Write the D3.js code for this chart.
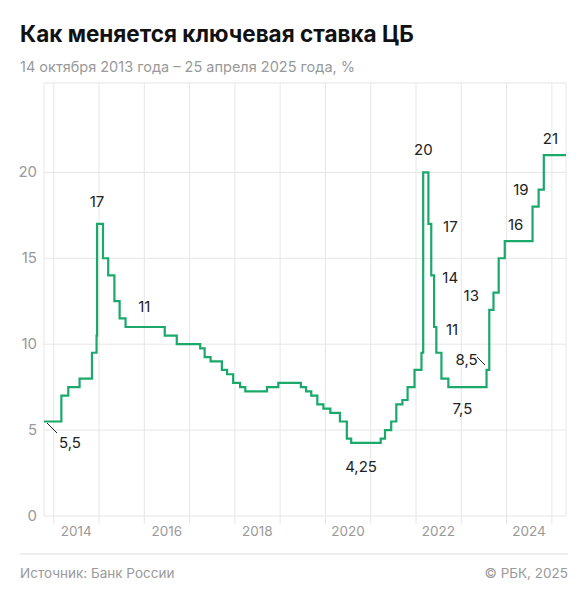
<!DOCTYPE html>
<html><head><meta charset="utf-8">
<script src="https://cdn.jsdelivr.net/npm/d3@7"></script>
<style>body{margin:0;background:#fff;font-family:Inter,Roboto,sans-serif}</style>
</head><body><svg id="c" width="588" height="600"></svg>
<script>
const dates=["2013-10-14","2014-03-03","2014-04-28","2014-07-28","2014-11-05","2014-12-12","2014-12-16","2015-02-02","2015-03-16","2015-05-05","2015-06-16","2015-08-03","2016-06-14","2016-09-19","2017-03-27","2017-05-02","2017-06-19","2017-09-18","2017-10-30","2017-12-18","2018-02-12","2018-03-26","2018-09-17","2018-12-17","2019-06-17","2019-07-29","2019-09-09","2019-10-28","2019-12-16","2020-02-10","2020-04-27","2020-06-22","2020-07-27","2021-03-22","2021-04-26","2021-06-15","2021-07-26","2021-09-13","2021-10-25","2021-12-20","2022-02-14","2022-02-28","2022-04-11","2022-05-04","2022-05-27","2022-06-14","2022-07-25","2022-09-19","2023-07-24","2023-08-15","2023-09-18","2023-10-30","2023-12-18","2024-07-29","2024-09-16","2024-10-28","2025-04-25"];
const rates=[5.5,7,7.5,8,9.5,10.5,17,15,14,12.5,11.5,11,10.5,10,9.75,9.25,9,8.5,8.25,7.75,7.5,7.25,7.5,7.75,7.5,7.25,7,6.5,6.25,6,5.5,4.5,4.25,4.5,5,5.5,6.5,6.75,7.5,8.5,9.5,20,17,14,11,9.5,8,7.5,8.5,12,13,15,16,18,19,21,21];
const yTicks=[0,5,10,15,20];
const years=[2014,2016,2018,2020,2022,2024];
const labels=[["17","2014-12-16",17,0,-22],["11","2016-01-01",11,0,-20],["5,5","2013-10-14",5.5,26,22],["4,25","2020-10-15",4.25,0,24],["20","2022-03-01",20,0,-22],["17","2022-04-11",17,22,3],["14","2022-05-04",14,19,3],["11","2022-05-27",11,18,3],["8,5","2023-07-24",8.5,-20,-10],["7,5","2023-01-10",7.5,0,22],["13","2023-08-15",13,-18,3],["16","2024-03-15",16,0,-16],["19","2024-08-01",19,-12,0],["21","2024-12-20",21,0,-16]];

const p=d3.timeParse("%Y-%m-%d");
const svg=d3.select("#c");
const x=d3.scaleTime().domain([p("2013-10-14"),p("2025-04-25")]).range([44,566]);
const y=d3.scaleLinear().domain([0,25.2]).range([516,83]);
const g="#e6e6e6";
svg.append("text").attr("x",20).attr("y",42).attr("font-size",22.5).attr("font-weight",700).attr("fill","#111").text("Как меняется ключевая ставка ЦБ");
svg.append("text").attr("x",20).attr("y",72).attr("font-size",14.5).attr("fill","#999").text("14 октября 2013 года – 25 апреля 2025 года, %");
const yearStarts=d3.range(2014,2026).map(v=>new Date(v,0,1));
svg.selectAll(".vg").data(yearStarts).join("line").attr("x1",d=>x(d)).attr("x2",d=>x(d)).attr("y1",83).attr("y2",524).attr("stroke",g);
svg.append("line").attr("x1",44).attr("x2",44).attr("y1",83).attr("y2",516).attr("stroke",g);
svg.append("line").attr("x1",566).attr("x2",566).attr("y1",83).attr("y2",516).attr("stroke",g);
svg.selectAll(".hg").data(yTicks).join("line").attr("x1",44).attr("x2",566).attr("y1",d=>y(d)).attr("y2",d=>y(d)).attr("stroke",g);
svg.append("line").attr("x1",44).attr("x2",566).attr("y1",83).attr("y2",83).attr("stroke",g);
svg.selectAll(".yt").data(yTicks).join("text").attr("x",37).attr("y",d=>y(d)+5).attr("text-anchor","end").attr("font-size",15).attr("fill","#999").text(d=>d);
svg.selectAll(".xt").data(years).join("text").attr("x",d=>x(new Date(d,6,1))).attr("y",536).attr("text-anchor","middle").attr("font-size",13.5).attr("fill","#999").text(d=>d);
const data=dates.map((d,i)=>({d:p(d),v:rates[i]}));
svg.append("path").datum(data).attr("fill","none").attr("stroke","#1aa86b").attr("stroke-width",2.2)
 .attr("d",d3.line().x(d=>x(d.d)).y(d=>y(d.v)).curve(d3.curveStepAfter));
labels.forEach(([t,d,v,dx,dy])=>{
 svg.append("text").attr("x",x(p(d))+dx).attr("y",y(v)+dy+5).attr("text-anchor","middle").attr("font-size",15).attr("fill","#222").text(t);
});
svg.append("line").attr("x1",47).attr("y1",423).attr("x2",57).attr("y2",433).attr("stroke","#222");
svg.append("line").attr("x1",477).attr("y1",357).attr("x2",485).attr("y2",365).attr("stroke","#222");
svg.append("line").attr("x1",20).attr("x2",568).attr("y1",554).attr("y2",554).attr("stroke","#ddd");
svg.append("text").attr("x",20).attr("y",578).attr("font-size",13.5).attr("fill","#999").text("Источник: Банк России");
svg.append("text").attr("x",568).attr("y",578).attr("text-anchor","end").attr("font-size",13.5).attr("fill","#999").text("© РБК, 2025");
</script></body></html>
